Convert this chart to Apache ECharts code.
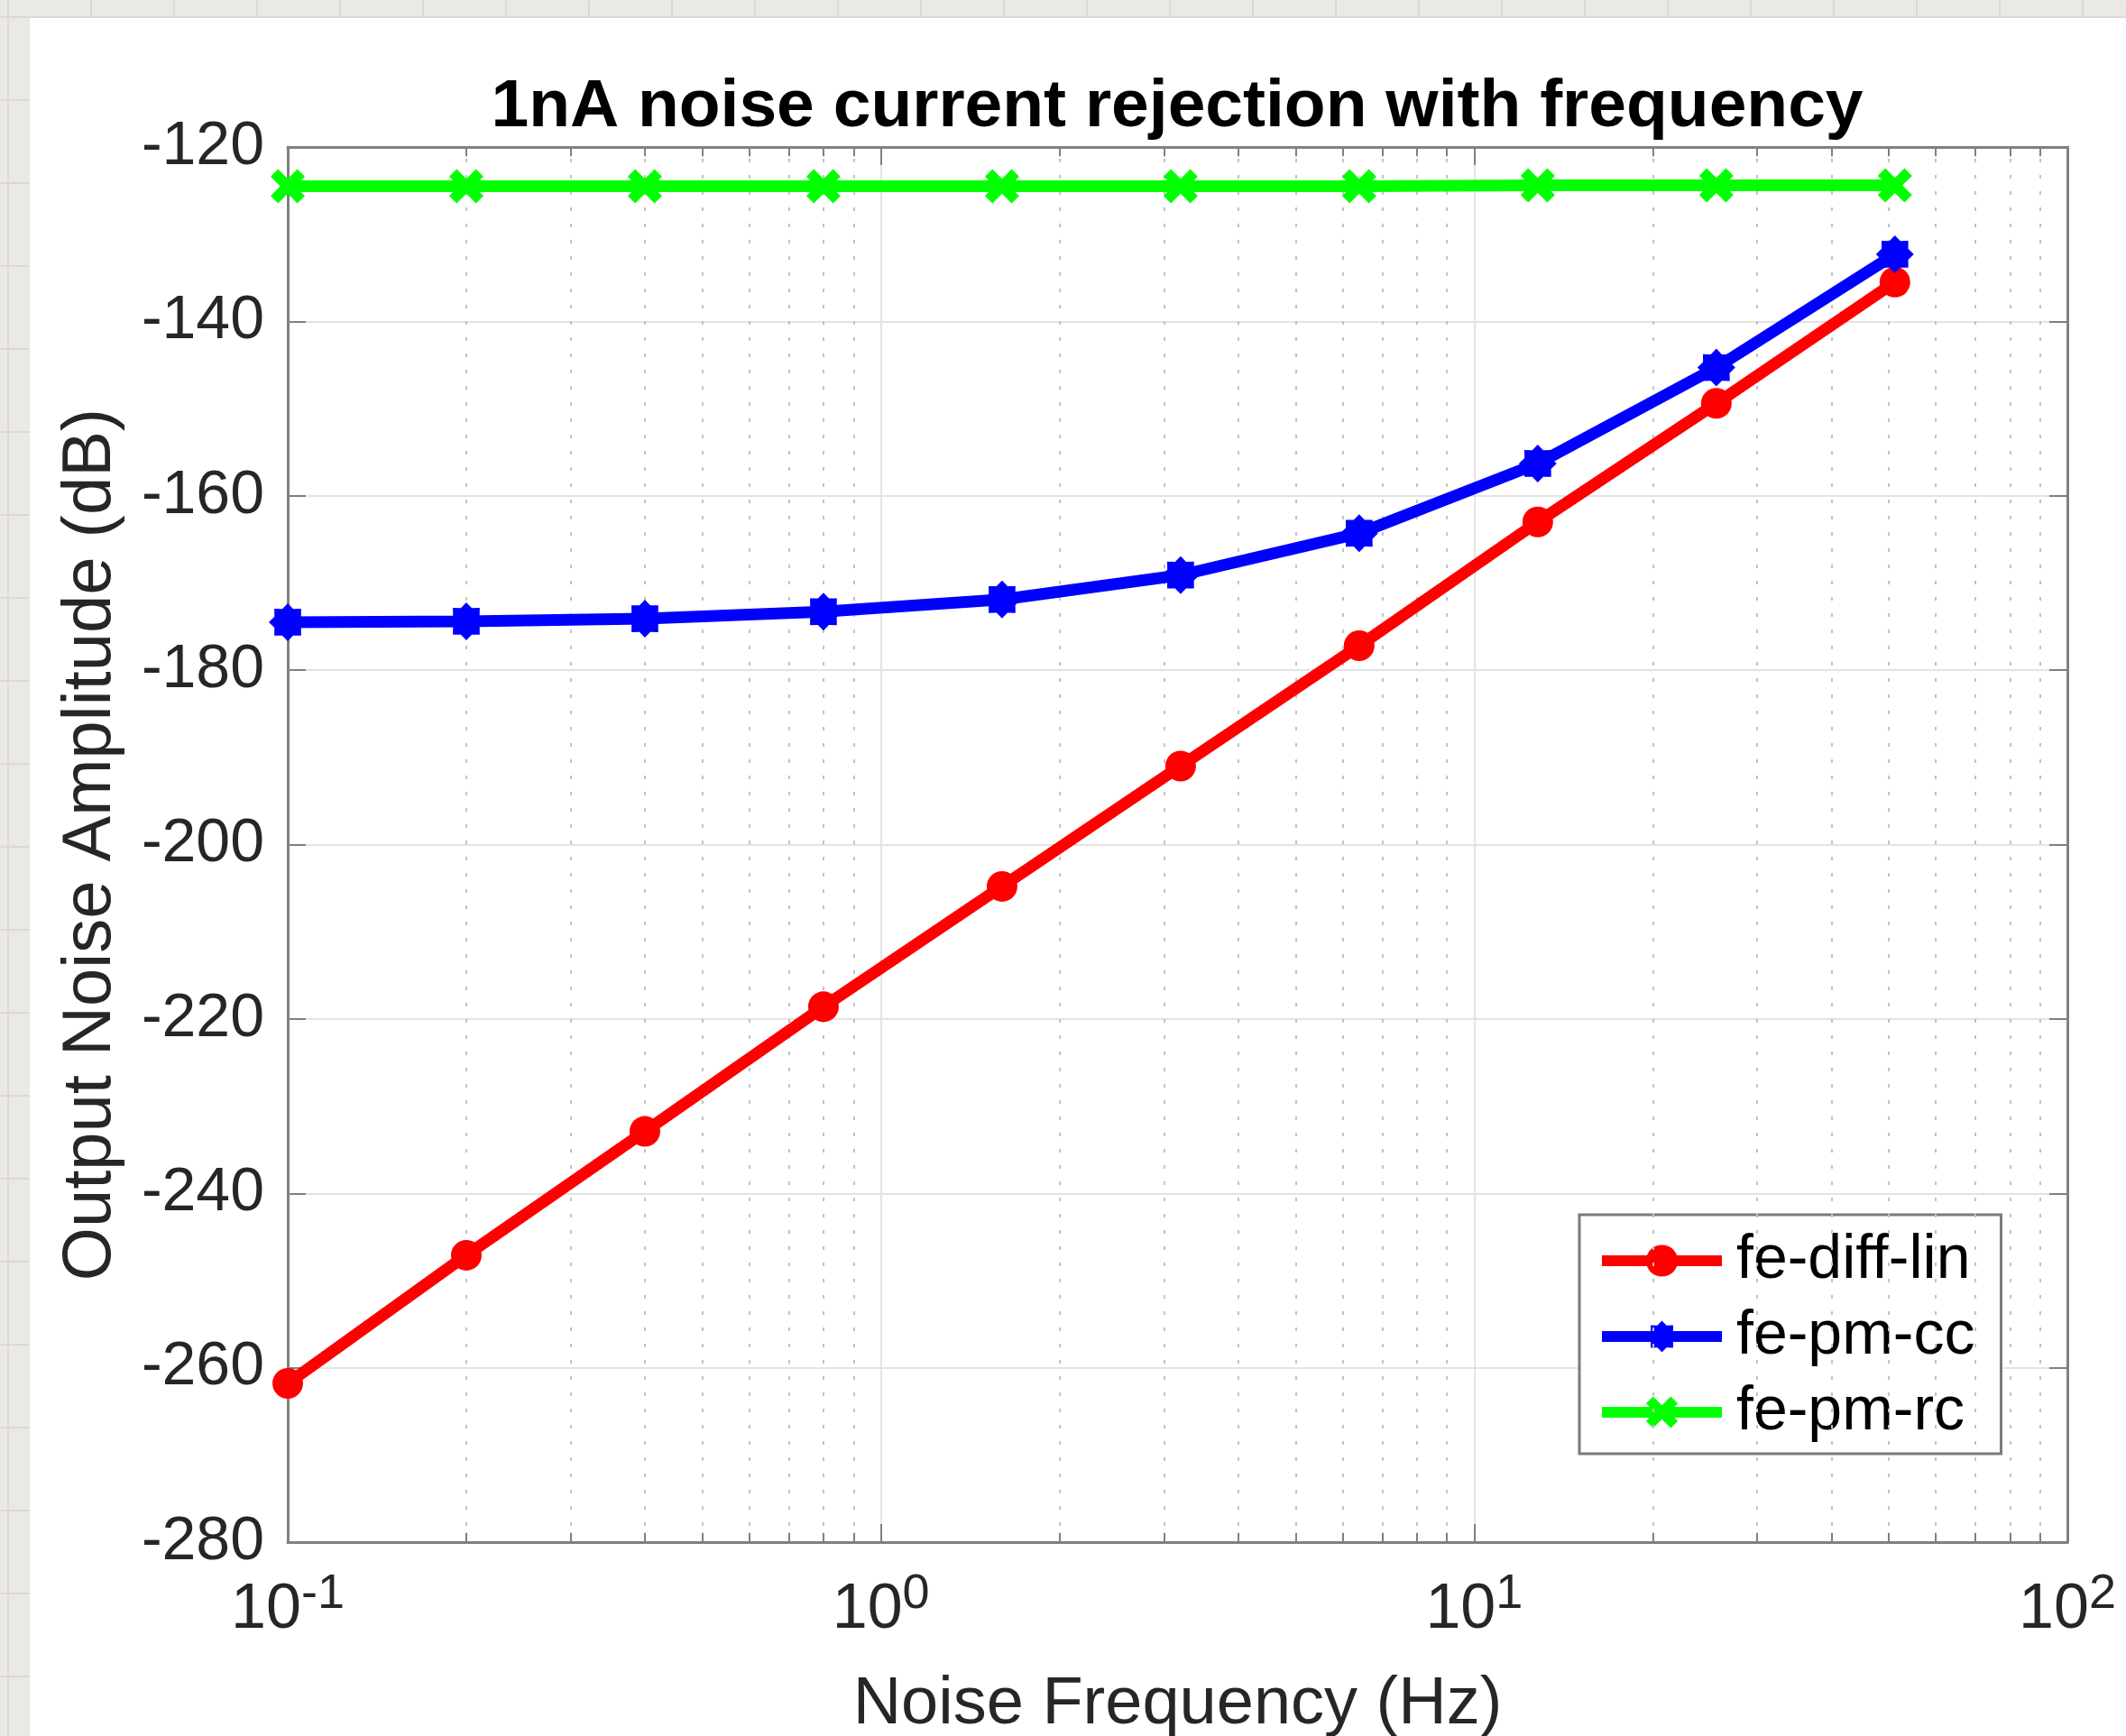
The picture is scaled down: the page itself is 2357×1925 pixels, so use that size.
<!DOCTYPE html>
<html>
<head>
<meta charset="utf-8">
<script src="https://cdn.jsdelivr.net/npm/echarts@6/dist/echarts.min.js"></script>
<style>
  html, body { margin: 0; padding: 0; }
  body {
    width: 2357px; height: 1925px; overflow: hidden; position: relative;
    background-color: #ebe9e5;
    background-image:
      linear-gradient(to right, #dcd9d3 2px, transparent 2px),
      linear-gradient(to bottom, #dcd9d3 2px, transparent 2px);
    background-size: 92px 92px;
    background-position: 8px 18px;
  }
  #card { position: absolute; left: 33px; top: 20px; right: 0; bottom: 0; background: #fff; }
  #chart { position: absolute; left: 0; top: 0; width: 2357px; height: 1925px; }
</style>
</head>
<body>
<div id="card"></div>
<div id="chart"></div>
<script>
// noise frequency (Hz), one point per octave
const freqs = [0.1, 0.2, 0.4, 0.8, 1.6, 3.2, 6.4, 12.8, 25.6, 51.2]
// output noise amplitude (dB)
const diffLin = [-261.8, -247.1, -232.9, -218.6, -204.8, -191.0, -177.2, -163.0, -149.4, -135.5]
const pmCc = [-174.5, -174.4, -174.1, -173.3, -171.9, -169.1, -164.3, -156.3, -145.3, -132.3]
const pmRc = [-124.5, -124.5, -124.5, -124.5, -124.5, -124.5, -124.5, -124.4, -124.4, -124.4]
const seriesNames = ['fe-diff-lin', 'fe-pm-cc', 'fe-pm-rc']

// axis ranges
const xMin = 0.1
const xMax = 100
const yMin = -280
const yMax = -120
const yStep = 20
// minor log positions (2..9 in each decade)
const minorFreqs = [0.2, 0.3, 0.4, 0.5, 0.6, 0.7, 0.8, 0.9, 2, 3, 4, 5, 6, 7, 8, 9, 20, 30, 40, 50, 60, 70, 80, 90]

const FONT = 'Liberation Sans'
const AXIS_GRAY = '#808080'
const minorTickDb = 1.05

// matlab style asterisk marker drawn thick -> looks like a gear
const starPath = () => {
  let d = ''
  for (let i = 0; i < 16; i++) {
    const r = i % 2 === 0 ? 50 : 38
    const a = i * Math.PI / 8
    const x = (50 + r * Math.cos(a)).toFixed(1)
    const y = (50 + r * Math.sin(a)).toFixed(1)
    d += (i === 0 ? 'M' : 'L') + x + ',' + y + ' '
  }
  return 'path://' + d + 'Z'
}
const crossPath = 'path://M0,22 L22,0 L50,28 L78,0 L100,22 L72,50 L100,78 L78,100 L50,72 L22,100 L0,78 L28,50 Z'

const toPoints = (ys) => freqs.map((f, i) => [f, ys[i]])

const chart = echarts.init(document.getElementById('chart'), null, { renderer: 'canvas' })

const lineSeries = (name, ys, color, symbol, size) => ({
  name,
  type: 'line',
  data: toPoints(ys),
  symbol,
  symbolSize: size,
  showAllSymbol: true,
  xAxisIndex: 0,
  yAxisIndex: 0,
  z: 5,
  lineStyle: { color, width: 13 },
  itemStyle: { color, borderWidth: 0 }
})

const option = {
  animation: false,
  backgroundColor: 'transparent',
  title: {
    text: '1nA noise current rejection with frequency',
    left: 1305,
    top: 82,
    textAlign: 'center',
    padding: 0,
    textStyle: { fontFamily: FONT, fontSize: 75, fontWeight: 'bold', color: '#000', lineHeight: 75 }
  },
  legend: {
    data: seriesNames,
    orient: 'vertical',
    left: 1751,
    top: 1347,
    padding: [17, 29, 12, 19],
    itemWidth: 133,
    itemHeight: 44,
    itemGap: 16,
    backgroundColor: '#fff',
    borderColor: '#7a7a7a',
    borderWidth: 3,
    borderRadius: 0,
    lineStyle: { width: 12 },
    textStyle: { fontFamily: FONT, fontSize: 68, color: '#000', lineHeight: 68, padding: [0, 0, 0, 11] }
  },
  grid: { left: 319, right: 65, top: 163, bottom: 215, outerBoundsMode: 'none', containLabel: false },
  xAxis: [
    {
      type: 'log',
      logBase: 10,
      min: xMin,
      max: xMax,
      name: 'Noise Frequency (Hz)',
      nameLocation: 'middle',
      nameGap: 144,
      nameTextStyle: { fontFamily: FONT, fontSize: 74, color: '#262626' },
      axisLine: { show: true, onZero: false, lineStyle: { color: AXIS_GRAY, width: 3 } },
      axisTick: { show: true, inside: true, length: 20, lineStyle: { color: AXIS_GRAY, width: 2 } },
      splitLine: { show: true, lineStyle: { color: '#e3e3e3', width: 2 } },
      axisLabel: {
        margin: 31,
        formatter: (v) => '{b|10}{s|' + Math.round(Math.log10(v)) + '}',
        rich: {
          b: { fontFamily: FONT, fontSize: 70, lineHeight: 70, color: '#262626', padding: [20, 0, 0, 0] },
          s: { fontFamily: FONT, fontSize: 54, lineHeight: 54, color: '#262626', verticalAlign: 'top' }
        }
      }
    },
    {
      type: 'log',
      logBase: 10,
      min: xMin,
      max: xMax,
      position: 'top',
      axisLine: { show: true, onZero: false, lineStyle: { color: AXIS_GRAY, width: 3 } },
      axisTick: { show: true, inside: true, length: 20, lineStyle: { color: AXIS_GRAY, width: 2 } },
      axisLabel: { show: false },
      splitLine: { show: false }
    }
  ],
  yAxis: [
    {
      type: 'value',
      min: yMin,
      max: yMax,
      interval: yStep,
      name: 'Output Noise Amplitude (dB)',
      nameLocation: 'middle',
      nameGap: 180,
      nameTextStyle: { fontFamily: FONT, fontSize: 76, color: '#262626' },
      axisLine: { show: true, onZero: false, lineStyle: { color: AXIS_GRAY, width: 3 } },
      axisTick: { show: true, inside: true, length: 20, lineStyle: { color: AXIS_GRAY, width: 2 } },
      splitLine: { show: true, lineStyle: { color: '#e3e3e3', width: 2 } },
      axisLabel: { margin: 26, fontFamily: FONT, fontSize: 68, color: '#262626' }
    },
    {
      type: 'value',
      min: yMin,
      max: yMax,
      interval: yStep,
      position: 'right',
      axisLine: { show: true, onZero: false, lineStyle: { color: AXIS_GRAY, width: 3 } },
      axisTick: { show: true, inside: true, length: 20, lineStyle: { color: AXIS_GRAY, width: 2 } },
      axisLabel: { show: false },
      splitLine: { show: false }
    }
  ],
  series: [
    {
      // minor grid and minor ticks of the log axis
      name: 'minor',
      type: 'line',
      data: [],
      z: 1,
      silent: true,
      markLine: {
        silent: true,
        symbol: ['none', 'none'],
        label: { show: false },
        animation: false,
        data: [
          ...minorFreqs.map(v => ({ xAxis: v, lineStyle: { type: [4, 14], color: '#c2c2c2', width: 2 } })),
          ...minorFreqs.map(v => [
            { coord: [v, yMin], lineStyle: { type: 'solid', color: AXIS_GRAY, width: 2 } },
            { coord: [v, yMin + minorTickDb] }
          ]),
          ...minorFreqs.map(v => [
            { coord: [v, yMax], lineStyle: { type: 'solid', color: AXIS_GRAY, width: 2 } },
            { coord: [v, yMax - minorTickDb] }
          ])
        ]
      }
    },
    lineSeries(seriesNames[0], diffLin, '#ff0000', 'circle', 34),
    lineSeries(seriesNames[1], pmCc, '#0000ff', starPath(), 42),
    lineSeries(seriesNames[2], pmRc, '#00ff00', crossPath, 38)
  ]
}

chart.setOption(option)
</script>
</body>
</html>
